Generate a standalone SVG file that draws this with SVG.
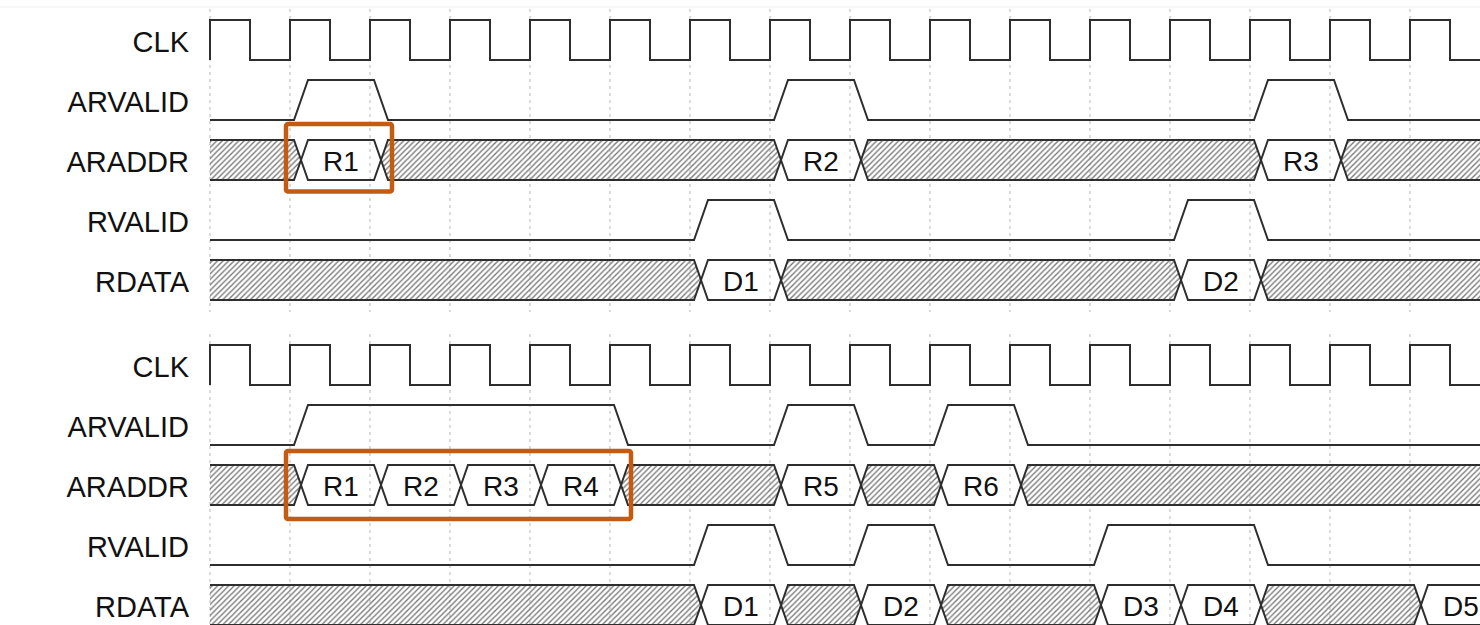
<svg xmlns="http://www.w3.org/2000/svg" width="1480" height="625" viewBox="0 0 1480 625">
  <style>
    .lbl { font-family: "Liberation Sans", Arial, sans-serif; font-size: 29px; fill: #111; text-anchor: end; }
    .val { font-family: "Liberation Sans", Arial, sans-serif; font-size: 28px; fill: #111; text-anchor: middle; }
    .wave { fill: none; stroke: #2e2e2e; stroke-width: 2; stroke-linejoin: miter; }
    .bus { fill: none; stroke: #2e2e2e; stroke-width: 2; }
    .hatch { fill: url(#hatch); stroke: #2e2e2e; stroke-width: 2; }
    .grid { stroke: #cfcfcf; stroke-width: 1.5; stroke-dasharray: 3 4; }
    .mark { fill: none; stroke: #c55a11; stroke-width: 4.5; }
  </style>
  <defs>
    <pattern id="hatch" patternUnits="userSpaceOnUse" width="5.5" height="5.5">
      <path d="M-1,1 L1,-1 M0,5.5 L5.5,0 M4.5,6.5 L6.5,4.5" stroke="#7a7a7a" stroke-width="1.4"/>
    </pattern>
    <!-- clock train shared by both panels -->
    <path id="clkwave" class="wave" d="M210,60 V20 H250 V60 H290 V20 H330 V60 H370 V20 H410 V60 H450 V20 H490 V60 H530 V20 H570 V60 H610 V20 H650 V60 H690 V20 H730 V60 H770 V20 H810 V60 H850 V20 H890 V60 H930 V20 H970 V60 H1010 V20 H1050 V60 H1090 V20 H1130 V60 H1170 V20 H1210 V60 H1250 V20 H1290 V60 H1330 V20 H1370 V60 H1410 V20 H1450 V60 H1480"/>
  </defs>

  <rect x="0" y="0" width="1480" height="625" fill="#fff"/>
  <line x1="0" y1="7" x2="1480" y2="7" stroke="#eeeeee" stroke-width="1"/>

  <!-- grid: one dotted line per clock period -->
  <g id="grid">
    <g class="grid">
      <path d="M210,9 V312 M290,9 V312 M370,9 V312 M450,9 V312 M530,9 V312 M610,9 V312 M690,9 V312 M770,9 V312 M850,9 V312 M930,9 V312 M1010,9 V312 M1090,9 V312 M1170,9 V312 M1250,9 V312 M1330,9 V312 M1410,9 V312"/>
      <path d="M210,334 V625 M290,334 V625 M370,334 V625 M450,334 V625 M530,334 V625 M610,334 V625 M690,334 V625 M770,334 V625 M850,334 V625 M930,334 V625 M1010,334 V625 M1090,334 V625 M1170,334 V625 M1250,334 V625 M1330,334 V625 M1410,334 V625"/>
    </g>
  </g>

  <!-- panel 1: single outstanding read -->
  <g id="panel1">
    <g id="p1-clk">
      <text class="lbl" x="189" y="51.5">CLK</text>
      <use href="#clkwave"/>
    </g>
    <g id="p1-arvalid">
      <text class="lbl" x="189" y="111.5">ARVALID</text>
      <path class="wave" d="M210,120 H294 L308,80 H374 L388,120 H774 L788,80 H854 L868,120 H1254 L1268,80 H1334 L1348,120 H1480"/>
    </g>
    <g id="p1-araddr">
      <text class="lbl" x="189" y="171.5">ARADDR</text>
      <path class="hatch" d="M210,140 H294 L301,160 L294,180 H210"/>
      <path class="bus" d="M301,160 L308,140 H374 L381,160 L374,180 H308 Z"/>
      <path class="hatch" d="M381,160 L388,140 H774 L781,160 L774,180 H388 Z"/>
      <path class="bus" d="M781,160 L788,140 H854 L861,160 L854,180 H788 Z"/>
      <path class="hatch" d="M861,160 L868,140 H1254 L1261,160 L1254,180 H868 Z"/>
      <path class="bus" d="M1261,160 L1268,140 H1334 L1341,160 L1334,180 H1268 Z"/>
      <path class="hatch" d="M1492,140 H1348 L1341,160 L1348,180 H1492"/>
      <text class="val" x="341" y="170.5">R1</text>
      <text class="val" x="821" y="170.5">R2</text>
      <text class="val" x="1301" y="170.5">R3</text>
    </g>
    <g id="p1-rvalid">
      <text class="lbl" x="189" y="231.5">RVALID</text>
      <path class="wave" d="M210,240 H694 L708,200 H774 L788,240 H1174 L1188,200 H1254 L1268,240 H1480"/>
    </g>
    <g id="p1-rdata">
      <text class="lbl" x="189" y="291.5">RDATA</text>
      <path class="hatch" d="M210,260 H694 L701,280 L694,300 H210"/>
      <path class="bus" d="M701,280 L708,260 H774 L781,280 L774,300 H708 Z"/>
      <path class="hatch" d="M781,280 L788,260 H1174 L1181,280 L1174,300 H788 Z"/>
      <path class="bus" d="M1181,280 L1188,260 H1254 L1261,280 L1254,300 H1188 Z"/>
      <path class="hatch" d="M1492,260 H1268 L1261,280 L1268,300 H1492"/>
      <text class="val" x="741" y="290.5">D1</text>
      <text class="val" x="1221" y="290.5">D2</text>
    </g>
  </g>

  <!-- panel 2: several outstanding reads -->
  <g id="panel2" transform="translate(0,325)">
    <g id="p2-clk">
      <text class="lbl" x="189" y="51.5">CLK</text>
      <use href="#clkwave"/>
    </g>
    <g id="p2-arvalid">
      <text class="lbl" x="189" y="111.5">ARVALID</text>
      <path class="wave" d="M210,120 H294 L308,80 H614 L628,120 H774 L788,80 H854 L868,120 H934 L948,80 H1014 L1028,120 H1480"/>
    </g>
    <g id="p2-araddr">
      <text class="lbl" x="189" y="171.5">ARADDR</text>
      <path class="hatch" d="M210,140 H294 L301,160 L294,180 H210"/>
      <path class="bus" d="M301,160 L308,140 H374 L381,160 L374,180 H308 Z"/>
      <path class="bus" d="M381,160 L388,140 H454 L461,160 L454,180 H388 Z"/>
      <path class="bus" d="M461,160 L468,140 H534 L541,160 L534,180 H468 Z"/>
      <path class="bus" d="M541,160 L548,140 H614 L621,160 L614,180 H548 Z"/>
      <path class="hatch" d="M621,160 L628,140 H774 L781,160 L774,180 H628 Z"/>
      <path class="bus" d="M781,160 L788,140 H854 L861,160 L854,180 H788 Z"/>
      <path class="hatch" d="M861,160 L868,140 H934 L941,160 L934,180 H868 Z"/>
      <path class="bus" d="M941,160 L948,140 H1014 L1021,160 L1014,180 H948 Z"/>
      <path class="hatch" d="M1492,140 H1028 L1021,160 L1028,180 H1492"/>
      <text class="val" x="341" y="170.5">R1</text>
      <text class="val" x="421" y="170.5">R2</text>
      <text class="val" x="501" y="170.5">R3</text>
      <text class="val" x="581" y="170.5">R4</text>
      <text class="val" x="821" y="170.5">R5</text>
      <text class="val" x="981" y="170.5">R6</text>
    </g>
    <g id="p2-rvalid">
      <text class="lbl" x="189" y="231.5">RVALID</text>
      <path class="wave" d="M210,240 H694 L708,200 H774 L788,240 H854 L868,200 H934 L948,240 H1094 L1108,200 H1254 L1268,240 H1480"/>
    </g>
    <g id="p2-rdata">
      <text class="lbl" x="189" y="291.5">RDATA</text>
      <path class="hatch" d="M210,260 H694 L701,280 L694,300 H210"/>
      <path class="bus" d="M701,280 L708,260 H774 L781,280 L774,300 H708 Z"/>
      <path class="hatch" d="M781,280 L788,260 H854 L861,280 L854,300 H788 Z"/>
      <path class="bus" d="M861,280 L868,260 H934 L941,280 L934,300 H868 Z"/>
      <path class="hatch" d="M941,280 L948,260 H1094 L1101,280 L1094,300 H948 Z"/>
      <path class="bus" d="M1101,280 L1108,260 H1174 L1181,280 L1174,300 H1108 Z"/>
      <path class="bus" d="M1181,280 L1188,260 H1254 L1261,280 L1254,300 H1188 Z"/>
      <path class="hatch" d="M1261,280 L1268,260 H1414 L1421,280 L1414,300 H1268 Z"/>
      <path class="bus" d="M1492,260 H1428 L1421,280 L1428,300 H1492"/>
      <text class="val" x="741" y="290.5">D1</text>
      <text class="val" x="901" y="290.5">D2</text>
      <text class="val" x="1141" y="290.5">D3</text>
      <text class="val" x="1221" y="290.5">D4</text>
      <text class="val" x="1461" y="290.5">D5</text>
    </g>
  </g>

  <!-- highlight frames around the address phases -->
  <g id="highlight-single">
    <rect class="mark" x="286" y="124" width="106" height="67.5" rx="2"/>
  </g>
  <g id="highlight-burst">
    <rect class="mark" x="286" y="451" width="345" height="68" rx="2"/>
  </g>
</svg>
